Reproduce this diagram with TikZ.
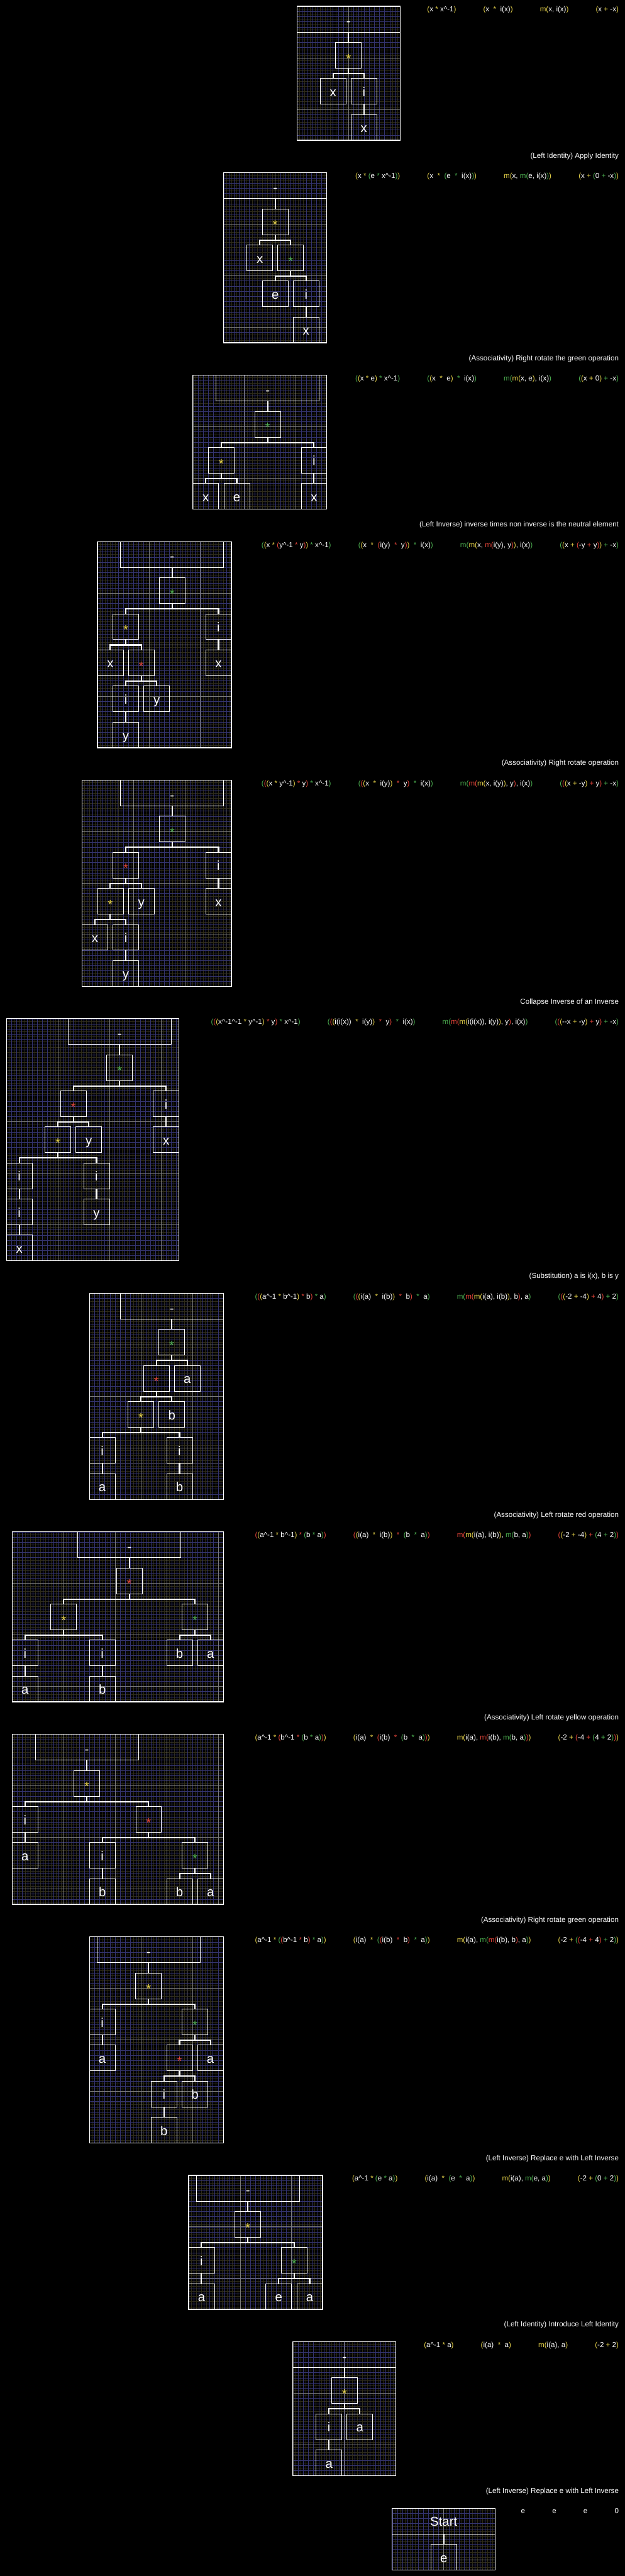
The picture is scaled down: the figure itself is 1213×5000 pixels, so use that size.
\documentclass[tikz,border=0pt]{standalone}
\usepackage{fontspec}
\setmainfont{Liberation Sans}
\definecolor{cy}{HTML}{E8D44A}
\definecolor{cg}{HTML}{4CAF50}
\definecolor{cr}{HTML}{E5453A}
\definecolor{gbl}{HTML}{34346E}
\definecolor{gol}{HTML}{2E2B18}
\definecolor{gmj}{HTML}{7A7A7A}
\newcommand\fmf{\fontsize{8.05pt}{9.6pt}\selectfont}
\newcommand\lbf{\fontsize{14.2pt}{17pt}\selectfont}
\newcommand\inv{\textasciicircum-1}
\newcommand\Yc[1]{\textcolor{cy}{#1}}
\newcommand\Gc[1]{\textcolor{cg}{#1}}
\newcommand\Rc[1]{\textcolor{cr}{#1}}
\tikzset{
  bx/.style={draw=white, line width=0.02cm, inner sep=0pt, text=white, font=\lbf, minimum height=1cm},
  lf/.style={bx, minimum width=1cm, text height=0.4cm, text depth=0cm},
  opn/.style={bx, minimum width=1cm, text height=0.6cm, text depth=0cm},
  opY/.style={opn, text=cy},
  opG/.style={opn, text=cg},
  opR/.style={opn, text=cr},
  rootn/.style={bx, minimum width=4cm, text height=0.5cm, text depth=0cm},
  startn/.style={bx, minimum width=4cm, text height=0.4cm, text depth=0cm},
  conn/.style={draw=white, line width=0.05cm},
  fm/.style={inner sep=0pt, text=white, font=\fmf},
  framec/.style={draw=white, line width=0.03cm},
  gridA/.style={draw=gbl, line width=0.35pt, step=0.2cm},
  gridB/.style={draw=gol, line width=0.35pt, step=0.1cm},
  gridM/.style={draw=gmj, line width=0.5pt, step=2cm}
}
\newcommand\Pb[4]{%
  \begin{scope}
    \clip (#1,#2) rectangle ++(#3,#4);
    \fill[black] (#1,#2) rectangle ++(#3,#4);
    \begin{scope}[shift={(#1,#2)}]
      \draw[gridB] (0,#4) grid (#3,0);
      \draw[gridA] (0,#4) grid (#3,0);
      \draw[gridM] (0,#4) grid (#3,0);
    \end{scope}
  \end{scope}
  \draw[framec] (#1,#2) rectangle ++(#3,#4);}
\newcommand\Nd[5]{\node[#1] (#2) at (#3,{\PT+25+70*#4}) {#5};}
\newcommand\Cn[2]{\draw[conn] (#1.south) -- ++(0,10) -| (#2.north);}
\newcommand\Fr[6]{%
  \node[fm,anchor=base east] (#1d) at (1201.5,{#2}) {#6};
  \node[fm,anchor=base east] (#1c) at ([xshift=-1.04cm]#1d.base west) {#5};
  \node[fm,anchor=base east] (#1b) at ([xshift=-1.04cm]#1c.base west) {#4};
  \node[fm,anchor=base east] (#1a) at ([xshift=-1.04cm]#1b.base west) {#3};}
\newcommand\Tt[3]{\node[fm,anchor=base east] (#1) at (1201.5,{#2}) {#3};}
\begin{document}
\begin{tikzpicture}[x=0.02cm, y=-0.02cm]
\useasboundingbox (0,0) rectangle (1213,5000);
\fill[black] (0,0) rectangle (1213,5000);

% ---------------- Panel 1
\def\PT{12.3}
\Pb{576.6}{12.3}{200}{260}
\Nd{rootn}{p1r}{676.6}{0}{-}
\Nd{opY}{p1a}{676.6}{1}{*}
\Nd{lf}{p1b}{646.6}{2}{x}
\Nd{lf}{p1c}{706.6}{2}{i}
\Nd{lf}{p1d}{706.6}{3}{x}
\Cn{p1r}{p1a}\Cn{p1a}{p1b}\Cn{p1a}{p1c}\Cn{p1c}{p1d}
\Fr{f1}{\PT+10.7}{\Yc{(}x \Yc{*} x\inv\Yc{)}}{\Yc{(}x~~\Yc{*}~~i(x)\Yc{)}}{\Yc{m(}x, i(x)\Yc{)}}{\Yc{(}x \Yc{+} -x\Yc{)}}

% ---------------- Panel 2
\def\PT{335.3}
\Tt{t2}{\PT-28.8}{(Left Identity) Apply Identity}
\Pb{434.3}{335.3}{200}{330}
\Nd{rootn}{p2r}{534.3}{0}{-}
\Nd{opY}{p2a}{534.3}{1}{*}
\Nd{lf}{p2b}{504.3}{2}{x}
\Nd{opG}{p2c}{564.3}{2}{*}
\Nd{lf}{p2d}{534.3}{3}{e}
\Nd{lf}{p2e}{594.3}{3}{i}
\Nd{lf}{p2f}{594.3}{4}{x}
\Cn{p2r}{p2a}\Cn{p2a}{p2b}\Cn{p2a}{p2c}\Cn{p2c}{p2d}\Cn{p2c}{p2e}\Cn{p2e}{p2f}
\Fr{f2}{\PT+10.7}{\Yc{(}x \Yc{*} \Gc{(}e \Gc{*} x\inv\Gc{)}\Yc{)}}{\Yc{(}x~~\Yc{*}~~\Gc{(}e~~\Gc{*}~~i(x)\Gc{)}\Yc{)}}{\Yc{m(}x, \Gc{m(}e, i(x)\Gc{)}\Yc{)}}{\Yc{(}x \Yc{+} \Gc{(}0 \Gc{+} -x\Gc{)}\Yc{)}}

% ---------------- Panel 3
\def\PT{728.3}
\Tt{t3}{\PT-28.8}{(Associativity) Right rotate the green operation}
\Pb{374.6}{728.3}{260}{260}
\Nd{rootn}{p3r}{519.6}{0}{-}
\Nd{opG}{p3a}{519.6}{1}{*}
\Nd{opY}{p3b}{429.6}{2}{*}
\Nd{lf}{p3c}{609.6}{2}{i}
\Nd{lf}{p3d}{399.6}{3}{x}
\Nd{lf}{p3e}{459.6}{3}{e}
\Nd{lf}{p3f}{609.6}{3}{x}
\Cn{p3r}{p3a}\Cn{p3a}{p3b}\Cn{p3a}{p3c}\Cn{p3b}{p3d}\Cn{p3b}{p3e}\Cn{p3c}{p3f}
\Fr{f3}{\PT+10.7}{\Gc{(}\Yc{(}x \Yc{*} e\Yc{)} \Gc{*} x\inv\Gc{)}}{\Gc{(}\Yc{(}x~~\Yc{*}~~e\Yc{)}~~\Gc{*}~~i(x)\Gc{)}}{\Gc{m(}\Yc{m(}x, e\Yc{)}, i(x)\Gc{)}}{\Gc{(}\Yc{(}x \Yc{+} 0\Yc{)} \Gc{+} -x\Gc{)}}

% ---------------- Panel 4
\def\PT{1051.3}
\Tt{t4}{\PT-28.8}{(Left Inverse) inverse times non inverse is the neutral element}
\Pb{189.2}{1051.3}{260}{400}
\Nd{rootn}{p4r}{334.2}{0}{-}
\Nd{opG}{p4a}{334.2}{1}{*}
\Nd{opY}{p4b}{244.2}{2}{*}
\Nd{lf}{p4c}{424.2}{2}{i}
\Nd{lf}{p4d}{214.2}{3}{x}
\Nd{opR}{p4e}{274.2}{3}{*}
\Nd{lf}{p4f}{424.2}{3}{x}
\Nd{lf}{p4g}{244.2}{4}{i}
\Nd{lf}{p4h}{304.2}{4}{y}
\Nd{lf}{p4i}{244.2}{5}{y}
\Cn{p4r}{p4a}\Cn{p4a}{p4b}\Cn{p4a}{p4c}\Cn{p4b}{p4d}\Cn{p4b}{p4e}\Cn{p4c}{p4f}\Cn{p4e}{p4g}\Cn{p4e}{p4h}\Cn{p4g}{p4i}
\Fr{f4}{\PT+10.7}{\Gc{(}\Yc{(}x \Yc{*} \Rc{(}y\inv{} \Rc{*} y\Rc{)}\Yc{)} \Gc{*} x\inv\Gc{)}}{\Gc{(}\Yc{(}x~~\Yc{*}~~\Rc{(}i(y)~~\Rc{*}~~y\Rc{)}\Yc{)}~~\Gc{*}~~i(x)\Gc{)}}{\Gc{m(}\Yc{m(}x, \Rc{m(}i(y), y\Rc{)}\Yc{)}, i(x)\Gc{)}}{\Gc{(}\Yc{(}x \Yc{+} \Rc{(}-y \Rc{+} y\Rc{)}\Yc{)} \Gc{+} -x\Gc{)}}

% ---------------- Panel 5
\def\PT{1514.3}
\Tt{t5}{\PT-28.8}{(Associativity) Right rotate operation}
\Pb{159.2}{1514.3}{290}{400}
\Nd{rootn}{p5r}{334.2}{0}{-}
\Nd{opG}{p5a}{334.2}{1}{*}
\Nd{opR}{p5b}{244.2}{2}{*}
\Nd{lf}{p5c}{424.2}{2}{i}
\Nd{opY}{p5d}{214.2}{3}{*}
\Nd{lf}{p5e}{274.2}{3}{y}
\Nd{lf}{p5f}{424.2}{3}{x}
\Nd{lf}{p5g}{184.2}{4}{x}
\Nd{lf}{p5h}{244.2}{4}{i}
\Nd{lf}{p5i}{244.2}{5}{y}
\Cn{p5r}{p5a}\Cn{p5a}{p5b}\Cn{p5a}{p5c}\Cn{p5b}{p5d}\Cn{p5b}{p5e}\Cn{p5c}{p5f}\Cn{p5d}{p5g}\Cn{p5d}{p5h}\Cn{p5h}{p5i}
\Fr{f5}{\PT+10.7}{\Gc{(}\Rc{(}\Yc{(}x \Yc{*} y\inv\Yc{)} \Rc{*} y\Rc{)} \Gc{*} x\inv\Gc{)}}{\Gc{(}\Rc{(}\Yc{(}x~~\Yc{*}~~i(y)\Yc{)}~~\Rc{*}~~y\Rc{)}~~\Gc{*}~~i(x)\Gc{)}}{\Gc{m(}\Rc{m(}\Yc{m(}x, i(y)\Yc{)}, y\Rc{)}, i(x)\Gc{)}}{\Gc{(}\Rc{(}\Yc{(}x \Yc{+} -y\Yc{)} \Rc{+} y\Rc{)} \Gc{+} -x\Gc{)}}

% ---------------- Panel 6
\def\PT{1977.3}
\Tt{t6}{\PT-28.8}{Collapse Inverse of an Inverse}
\Pb{12.4}{1977.3}{335}{470}
\Nd{rootn}{p6r}{232.4}{0}{-}
\Nd{opG}{p6a}{232.4}{1}{*}
\Nd{opR}{p6b}{142.4}{2}{*}
\Nd{lf}{p6c}{322.4}{2}{i}
\Nd{opY}{p6d}{112.4}{3}{*}
\Nd{lf}{p6e}{172.4}{3}{y}
\Nd{lf}{p6f}{322.4}{3}{x}
\Nd{lf}{p6g}{37.4}{4}{i}
\Nd{lf}{p6h}{187.4}{4}{i}
\Nd{lf}{p6i}{37.4}{5}{i}
\Nd{lf}{p6j}{187.4}{5}{y}
\Nd{lf}{p6k}{37.4}{6}{x}
\Cn{p6r}{p6a}\Cn{p6a}{p6b}\Cn{p6a}{p6c}\Cn{p6b}{p6d}\Cn{p6b}{p6e}\Cn{p6c}{p6f}\Cn{p6d}{p6g}\Cn{p6d}{p6h}\Cn{p6g}{p6i}\Cn{p6h}{p6j}\Cn{p6i}{p6k}
\Fr{f6}{\PT+10.7}{\Gc{(}\Rc{(}\Yc{(}x\inv\inv{} \Yc{*} y\inv\Yc{)} \Rc{*} y\Rc{)} \Gc{*} x\inv\Gc{)}}{\Gc{(}\Rc{(}\Yc{(}i(i(x))~~\Yc{*}~~i(y)\Yc{)}~~\Rc{*}~~y\Rc{)}~~\Gc{*}~~i(x)\Gc{)}}{\Gc{m(}\Rc{m(}\Yc{m(}i(i(x)), i(y)\Yc{)}, y\Rc{)}, i(x)\Gc{)}}{\Gc{(}\Rc{(}\Yc{(}-{}-x \Yc{+} -y\Yc{)} \Rc{+} y\Rc{)} \Gc{+} -x\Gc{)}}

% ---------------- Panel 7
\def\PT{2510.3}
\Tt{t7}{\PT-28.8}{(Substitution) a is i(x), b is y}
\Pb{173.5}{2510.3}{260}{400}
\Nd{rootn}{p7r}{333.5}{0}{-}
\Nd{opG}{p7a}{333.5}{1}{*}
\Nd{opR}{p7b}{303.5}{2}{*}
\Nd{lf}{p7c}{363.5}{2}{a}
\Nd{opY}{p7d}{273.5}{3}{*}
\Nd{lf}{p7e}{333.5}{3}{b}
\Nd{lf}{p7f}{198.5}{4}{i}
\Nd{lf}{p7g}{348.5}{4}{i}
\Nd{lf}{p7h}{198.5}{5}{a}
\Nd{lf}{p7i}{348.5}{5}{b}
\Cn{p7r}{p7a}\Cn{p7a}{p7b}\Cn{p7a}{p7c}\Cn{p7b}{p7d}\Cn{p7b}{p7e}\Cn{p7d}{p7f}\Cn{p7d}{p7g}\Cn{p7f}{p7h}\Cn{p7g}{p7i}
\Fr{f7}{\PT+10.7}{\Gc{(}\Rc{(}\Yc{(}a\inv{} \Yc{*} b\inv\Yc{)} \Rc{*} b\Rc{)} \Gc{*} a\Gc{)}}{\Gc{(}\Rc{(}\Yc{(}i(a)~~\Yc{*}~~i(b)\Yc{)}~~\Rc{*}~~b\Rc{)}~~\Gc{*}~~a\Gc{)}}{\Gc{m(}\Rc{m(}\Yc{m(}i(a), i(b)\Yc{)}, b\Rc{)}, a\Gc{)}}{\Gc{(}\Rc{(}\Yc{(}-2 \Yc{+} -4\Yc{)} \Rc{+} 4\Rc{)} \Gc{+} 2\Gc{)}}

% ---------------- Panel 8
\def\PT{2973.3}
\Tt{t8}{\PT-28.8}{(Associativity) Left rotate red operation}
\Pb{23.6}{2973.3}{410}{330}
\Nd{rootn}{p8r}{251.1}{0}{-}
\Nd{opR}{p8a}{251.1}{1}{*}
\Nd{opY}{p8b}{123.6}{2}{*}
\Nd{opG}{p8c}{378.6}{2}{*}
\Nd{lf}{p8d}{48.6}{3}{i}
\Nd{lf}{p8e}{198.6}{3}{i}
\Nd{lf}{p8f}{348.6}{3}{b}
\Nd{lf}{p8g}{408.6}{3}{a}
\Nd{lf}{p8h}{48.6}{4}{a}
\Nd{lf}{p8i}{198.6}{4}{b}
\Cn{p8r}{p8a}\Cn{p8a}{p8b}\Cn{p8a}{p8c}\Cn{p8b}{p8d}\Cn{p8b}{p8e}\Cn{p8c}{p8f}\Cn{p8c}{p8g}\Cn{p8d}{p8h}\Cn{p8e}{p8i}
\Fr{f8}{\PT+10.7}{\Rc{(}\Yc{(}a\inv{} \Yc{*} b\inv\Yc{)} \Rc{*} \Gc{(}b \Gc{*} a\Gc{)}\Rc{)}}{\Rc{(}\Yc{(}i(a)~~\Yc{*}~~i(b)\Yc{)}~~\Rc{*}~~\Gc{(}b~~\Gc{*}~~a\Gc{)}\Rc{)}}{\Rc{m(}\Yc{m(}i(a), i(b)\Yc{)}, \Gc{m(}b, a\Gc{)}\Rc{)}}{\Rc{(}\Yc{(}-2 \Yc{+} -4\Yc{)} \Rc{+} \Gc{(}4 \Gc{+} 2\Gc{)}\Rc{)}}

% ---------------- Panel 9
\def\PT{3366.3}
\Tt{t9}{\PT-28.8}{(Associativity) Left rotate yellow operation}
\Pb{23.6}{3366.3}{410}{330}
\Nd{rootn}{p9r}{168.6}{0}{-}
\Nd{opY}{p9a}{168.6}{1}{*}
\Nd{lf}{p9b}{48.6}{2}{i}
\Nd{opR}{p9c}{288.6}{2}{*}
\Nd{lf}{p9d}{48.6}{3}{a}
\Nd{lf}{p9e}{198.6}{3}{i}
\Nd{opG}{p9f}{378.6}{3}{*}
\Nd{lf}{p9g}{198.6}{4}{b}
\Nd{lf}{p9h}{348.6}{4}{b}
\Nd{lf}{p9i}{408.6}{4}{a}
\Cn{p9r}{p9a}\Cn{p9a}{p9b}\Cn{p9a}{p9c}\Cn{p9b}{p9d}\Cn{p9c}{p9e}\Cn{p9c}{p9f}\Cn{p9e}{p9g}\Cn{p9f}{p9h}\Cn{p9f}{p9i}
\Fr{f9}{\PT+10.7}{\Yc{(}a\inv{} \Yc{*} \Rc{(}b\inv{} \Rc{*} \Gc{(}b \Gc{*} a\Gc{)}\Rc{)}\Yc{)}}{\Yc{(}i(a)~~\Yc{*}~~\Rc{(}i(b)~~\Rc{*}~~\Gc{(}b~~\Gc{*}~~a\Gc{)}\Rc{)}\Yc{)}}{\Yc{m(}i(a), \Rc{m(}i(b), \Gc{m(}b, a\Gc{)}\Rc{)}\Yc{)}}{\Yc{(}-2 \Yc{+} \Rc{(}-4 \Rc{+} \Gc{(}4 \Gc{+} 2\Gc{)}\Rc{)}\Yc{)}}

% ---------------- Panel 10
\def\PT{3759.3}
\Tt{t10}{\PT-28.8}{(Associativity) Right rotate green operation}
\Pb{173.5}{3759.3}{260}{400}
\Nd{rootn}{p10r}{288.5}{0}{-}
\Nd{opY}{p10a}{288.5}{1}{*}
\Nd{lf}{p10b}{198.5}{2}{i}
\Nd{opG}{p10c}{378.5}{2}{*}
\Nd{lf}{p10d}{198.5}{3}{a}
\Nd{opR}{p10e}{348.5}{3}{*}
\Nd{lf}{p10f}{408.5}{3}{a}
\Nd{lf}{p10g}{318.5}{4}{i}
\Nd{lf}{p10h}{378.5}{4}{b}
\Nd{lf}{p10i}{318.5}{5}{b}
\Cn{p10r}{p10a}\Cn{p10a}{p10b}\Cn{p10a}{p10c}\Cn{p10b}{p10d}\Cn{p10c}{p10e}\Cn{p10c}{p10f}\Cn{p10e}{p10g}\Cn{p10e}{p10h}\Cn{p10g}{p10i}
\Fr{f10}{\PT+10.7}{\Yc{(}a\inv{} \Yc{*} \Gc{(}\Rc{(}b\inv{} \Rc{*} b\Rc{)} \Gc{*} a\Gc{)}\Yc{)}}{\Yc{(}i(a)~~\Yc{*}~~\Gc{(}\Rc{(}i(b)~~\Rc{*}~~b\Rc{)}~~\Gc{*}~~a\Gc{)}\Yc{)}}{\Yc{m(}i(a), \Gc{m(}\Rc{m(}i(b), b\Rc{)}, a\Gc{)}\Yc{)}}{\Yc{(}-2 \Yc{+} \Gc{(}\Rc{(}-4 \Rc{+} 4\Rc{)} \Gc{+} 2\Gc{)}\Yc{)}}

% ---------------- Panel 11
\def\PT{4222.3}
\Tt{t11}{\PT-28.8}{(Left Inverse) Replace e with Left Inverse}
\Pb{366.2}{4222.3}{260}{260}
\Nd{rootn}{p11r}{481.2}{0}{-}
\Nd{opY}{p11a}{481.2}{1}{*}
\Nd{lf}{p11b}{391.2}{2}{i}
\Nd{opG}{p11c}{571.2}{2}{*}
\Nd{lf}{p11d}{391.2}{3}{a}
\Nd{lf}{p11e}{541.2}{3}{e}
\Nd{lf}{p11f}{601.2}{3}{a}
\Cn{p11r}{p11a}\Cn{p11a}{p11b}\Cn{p11a}{p11c}\Cn{p11b}{p11d}\Cn{p11c}{p11e}\Cn{p11c}{p11f}
\Fr{f11}{\PT+10.7}{\Yc{(}a\inv{} \Yc{*} \Gc{(}e \Gc{*} a\Gc{)}\Yc{)}}{\Yc{(}i(a)~~\Yc{*}~~\Gc{(}e~~\Gc{*}~~a\Gc{)}\Yc{)}}{\Yc{m(}i(a), \Gc{m(}e, a\Gc{)}\Yc{)}}{\Yc{(}-2 \Yc{+} \Gc{(}0 \Gc{+} 2\Gc{)}\Yc{)}}

% ---------------- Panel 12
\def\PT{4545.3}
\Tt{t12}{\PT-28.8}{(Left Identity) Introduce Left Identity}
\Pb{568.7}{4545.3}{200}{260}
\Nd{rootn}{p12r}{668.7}{0}{-}
\Nd{opY}{p12a}{668.7}{1}{*}
\Nd{lf}{p12b}{638.7}{2}{i}
\Nd{lf}{p12c}{698.7}{2}{a}
\Nd{lf}{p12d}{638.7}{3}{a}
\Cn{p12r}{p12a}\Cn{p12a}{p12b}\Cn{p12a}{p12c}\Cn{p12b}{p12d}
\Fr{f12}{\PT+10.7}{\Yc{(}a\inv{} \Yc{*} a\Yc{)}}{\Yc{(}i(a)~~\Yc{*}~~a\Yc{)}}{\Yc{m(}i(a), a\Yc{)}}{\Yc{(}-2 \Yc{+} 2\Yc{)}}

% ---------------- Panel 13
\def\PT{4868.3}
\Tt{t13}{\PT-28.8}{(Left Inverse) Replace e with Left Inverse}
\Pb{761.5}{4868.3}{200}{120}
\Nd{startn}{p13r}{861.5}{0}{Start}
\Nd{lf}{p13a}{861.5}{1}{e}
\Cn{p13r}{p13a}
\Fr{f13}{\PT+10.7}{e}{e}{e}{0}
\end{tikzpicture}
\end{document}
